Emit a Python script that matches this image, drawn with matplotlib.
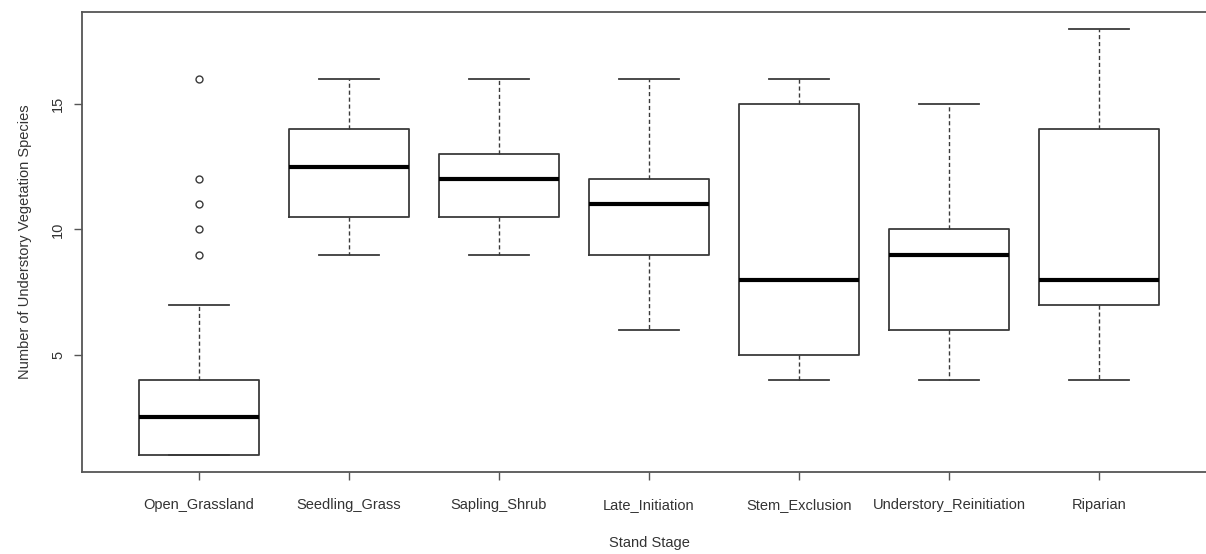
import matplotlib
matplotlib.use("Agg")
import matplotlib.pyplot as plt
import numpy as np

# stand stages and box statistics
stages = ['Open_Grassland', 'Seedling_Grass', 'Sapling_Shrub', 'Late_Initiation',
          'Stem_Exclusion', 'Understory_Reinitiation', 'Riparian']
whis_lo = [1, 9, 9, 6, 4, 4, 4]
q1 = [1, 10.5, 10.5, 9, 5, 6, 7]
medians = [2.5, 12.5, 12, 11, 8, 9, 8]
q3 = [4, 14, 13, 12, 15, 10, 14]
whis_hi = [7, 16, 16, 16, 16, 15, 18]
outliers = [[9, 10, 11, 12, 16], [], [], [], [], [], []]

plt.rcParams['font.family'] = ['Liberation Sans', 'DejaVu Sans']

fig = plt.figure(figsize=(12.06, 5.54), dpi=100)
W, H = 1206, 554
# axes frame: left 82 px, right runs past the image edge, top 12 px, bottom 472 px
ax = fig.add_axes([82 / W, (H - 472) / H, (1216 - 82) / W, (472 - 12) / H])

stats = []
for i in range(len(stages)):
    stats.append({'med': medians[i], 'q1': q1[i], 'q3': q3[i],
                  'whislo': whis_lo[i], 'whishi': whis_hi[i],
                  'fliers': outliers[i], 'label': stages[i]})

line_col = '#3a3a3a'
ax.bxp(stats, positions=np.arange(1, len(stages) + 1), widths=0.8,
       boxprops=dict(color=line_col, linewidth=1.3),
       medianprops=dict(color='black', linewidth=3.0, solid_capstyle='butt'),
       whiskerprops=dict(color=line_col, linewidth=1.0, linestyle=(0, (3, 2))),
       capprops=dict(color=line_col, linewidth=1.3),
       capwidths=0.4,
       flierprops=dict(marker='o', markersize=5, markerfacecolor='none',
                       markeredgecolor=line_col, markeredgewidth=1.0))

ax.set_xlim(0.22, 7.78)
ax.set_ylim(0.32, 18.68)
ax.set_yticks([5, 10, 15])
ax.set_yticklabels(['5', '10', '15'], rotation=90, va='center')

for s in ax.spines.values():
    s.set_color('#555555')
    s.set_linewidth(1.3)

ax.tick_params(axis='both', direction='out', length=6, width=1.0, color='#555555',
               labelsize=10.5, labelcolor='#333333')
ax.tick_params(axis='x', pad=13)
ax.tick_params(axis='y', pad=6)

ax.set_xlabel('Stand Stage', fontsize=10.5, color='#333333', labelpad=17)
ax.set_ylabel('Number of Understory Vegetation Species', fontsize=10.5, color='#333333', labelpad=14)

fig.savefig('out.png', dpi=100, facecolor='white')
